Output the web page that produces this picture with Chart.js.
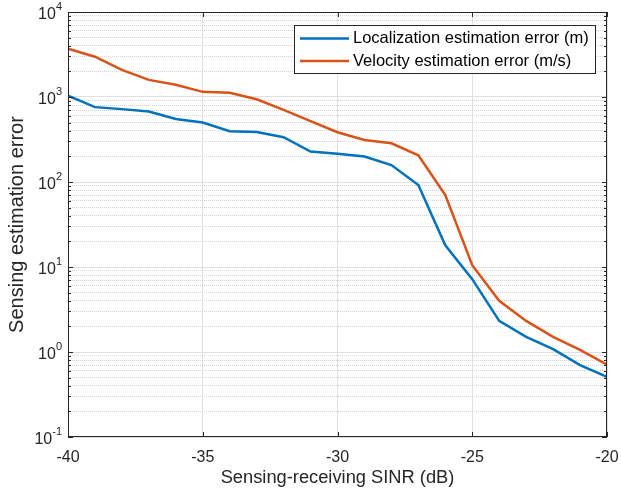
<!DOCTYPE html>
<html>
<head>
<meta charset="utf-8">
<script src="https://cdn.jsdelivr.net/npm/chart.js@4.4.1/dist/chart.umd.min.js"></script>
<style>
  html, body { margin: 0; padding: 0; background: #fff; }
  #wrap { width: 621px; height: 493px; }
</style>
</head>
<body>
<div id="wrap"><canvas id="errChart" width="621" height="493"></canvas></div>
<script>
const sinrDb = [-40, -39, -38, -37, -36, -35, -34, -33, -32, -31, -30, -29, -28, -27, -26, -25, -24, -23, -22, -21, -20];
const locError = [1040, 760, 720, 675, 550, 500, 395, 388, 336, 228, 215, 199, 158, 92, 18, 7.2, 2.32, 1.51, 1.08, 0.70, 0.51];
const velError = [3700, 2980, 2080, 1590, 1390, 1150, 1120, 940, 705, 520, 385, 312, 285, 206, 70, 10.5, 4.0, 2.32, 1.51, 1.06, 0.71];
const seriesNames = ['Localization estimation error (m)', 'Velocity estimation error (m/s)'];
const seriesColors = ['#0072BD', '#D95319'];
const xTicks = [-40, -35, -30, -25, -20];
const yExponents = [-1, 0, 1, 2, 3, 4];

const FONT = '"Liberation Sans", Arial, Helvetica, sans-serif';
const AXIS_COLOR = '#262626';

// 1..9 x 10^e for every decade, plus the top decade
const yTickValues = [];
yExponents.forEach((e, i) => {
    if (i === yExponents.length - 1) {
        yTickValues.push(Math.pow(10, e));
        return;
    }
    for (let m = 1; m <= 9; m++) {
        yTickValues.push(parseFloat((m * Math.pow(10, e)).toPrecision(3)));
    }
});

function isDecade(v) {
    const l = Math.log10(v);
    return Math.abs(l - Math.round(l)) < 1e-9;
}

// box, inward ticks, power-of-ten labels and the legend
const matlabAxes = {
    id: 'matlabAxes',
    afterDraw(chart) {
        const { ctx, chartArea: a, scales: { x, y } } = chart;
        ctx.save();
        ctx.strokeStyle = AXIS_COLOR;
        ctx.lineWidth = 1;
        ctx.beginPath();
        x.ticks.forEach(t => {
            const px = Math.round(x.getPixelForValue(t.value)) + 0.5;
            ctx.moveTo(px, a.bottom); ctx.lineTo(px, a.bottom - 5);
            ctx.moveTo(px, a.top); ctx.lineTo(px, a.top + 5);
        });
        y.ticks.forEach(t => {
            const py = Math.round(y.getPixelForValue(t.value)) + 0.5;
            const len = isDecade(t.value) ? 5 : 3;
            ctx.moveTo(a.left, py); ctx.lineTo(a.left + len, py);
            ctx.moveTo(a.right, py); ctx.lineTo(a.right - len, py);
        });
        ctx.stroke();
        ctx.strokeRect(Math.round(a.left) + 0.5, Math.round(a.top) + 0.5,
            Math.round(a.width) - 1, Math.round(a.height) - 1);

        // y labels as 10 with a raised exponent
        ctx.fillStyle = AXIS_COLOR;
        ctx.textBaseline = 'middle';
        const rightEdge = a.left - 6;
        yExponents.forEach(e => {
            const py = y.getPixelForValue(Math.pow(10, e));
            const sup = String(e);
            ctx.font = '11px ' + FONT;
            const supW = ctx.measureText(sup).width;
            ctx.textAlign = 'right';
            ctx.fillText(sup, rightEdge, py - 5);
            ctx.font = '16px ' + FONT;
            ctx.fillText('10', rightEdge - supW, py + 3);
        });

        // legend box in the upper right
        const box = { left: 294, top: 25, right: 595, bottom: 73 };
        ctx.fillStyle = '#fff';
        ctx.fillRect(box.left, box.top, box.right - box.left, box.bottom - box.top);
        ctx.strokeStyle = AXIS_COLOR;
        ctx.strokeRect(box.left + 0.5, box.top + 0.5, box.right - box.left, box.bottom - box.top);
        ctx.font = '16.5px ' + FONT;
        ctx.textAlign = 'left';
        chart.data.datasets.forEach((ds, i) => {
            const ly = 38.5 + i * 22.5;
            ctx.strokeStyle = ds.borderColor;
            ctx.lineWidth = 2.5;
            ctx.beginPath();
            ctx.moveTo(300, ly); ctx.lineTo(349, ly);
            ctx.stroke();
            ctx.fillStyle = '#000';
            ctx.fillText(ds.label, 353, ly);
        });
        ctx.restore();
    }
};

const ctx = document.getElementById('errChart').getContext('2d');
new Chart(ctx, {
    type: 'line',
    data: {
        datasets: [locError, velError].map((vals, i) => ({
            label: seriesNames[i],
            data: vals.map((v, k) => ({ x: sinrDb[k], y: v })),
            borderColor: seriesColors[i],
            backgroundColor: seriesColors[i],
            borderWidth: 2.5,
            pointRadius: 0,
            tension: 0,
            fill: false
        }))
    },
    options: {
        responsive: false,
        animation: false,
        devicePixelRatio: 1,
        layout: { padding: { top: 12, right: 14, left: 0, bottom: 0 } },
        plugins: {
            legend: { display: false },
            tooltip: { enabled: false }
        },
        scales: {
            x: {
                type: 'linear',
                min: -40,
                max: -20,
                afterBuildTicks: scale => { scale.ticks = xTicks.map(v => ({ value: v })); },
                afterFit: scale => {
                    scale.height = 56;
                    scale.paddingLeft = 0;
                    scale.paddingRight = 0;
                },
                grid: { color: '#e0e0e0', lineWidth: 1, drawTicks: false },
                border: { display: false },
                ticks: {
                    padding: 11,
                    color: AXIS_COLOR,
                    font: { family: FONT, size: 16 },
                    maxRotation: 0,
                    autoSkip: false
                },
                title: {
                    display: true,
                    text: 'Sensing-receiving SINR (dB)',
                    color: AXIS_COLOR,
                    font: { family: FONT, size: 18.3, lineHeight: 1 },
                    padding: { top: 0, bottom: 6 }
                }
            },
            y: {
                type: 'logarithmic',
                min: 0.1,
                max: 10000,
                afterBuildTicks: scale => { scale.ticks = yTickValues.map(v => ({ value: v })); },
                afterFit: scale => { scale.width = 68; },
                grid: {
                    color: c => (c.tick && !isDecade(c.tick.value)) ? '#d4d4d4' : '#e0e0e0',
                    lineWidth: 1,
                    drawTicks: false
                },
                border: {
                    display: false,
                    dash: c => (c.tick && !isDecade(c.tick.value)) ? [1, 1] : []
                },
                ticks: { display: false },
                title: {
                    display: true,
                    text: 'Sensing estimation error',
                    color: AXIS_COLOR,
                    font: { family: FONT, size: 20, lineHeight: 1 },
                    padding: { top: 7, bottom: 0 }
                }
            }
        }
    },
    plugins: [matlabAxes]
});
</script>
</body>
</html>
